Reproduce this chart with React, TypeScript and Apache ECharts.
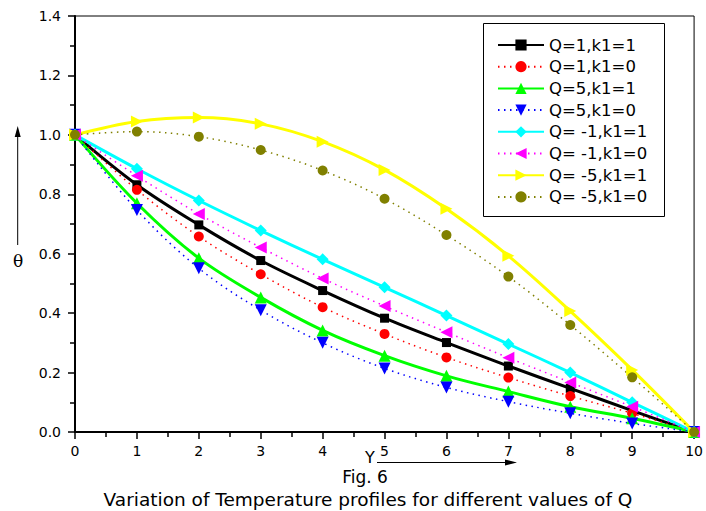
import React, { useEffect, useRef } from "react";
import * as echarts from "echarts";

// Y positions along the channel
const yPositions = [0, 1, 2, 3, 4, 5, 6, 7, 8, 9, 10];

// Temperature θ for each case
const thetaQ1K1 = [1, 0.832, 0.697, 0.577, 0.476, 0.383, 0.301, 0.222, 0.147, 0.072, 0];
const thetaQ1K0 = [1, 0.815, 0.658, 0.531, 0.42, 0.33, 0.251, 0.183, 0.121, 0.063, 0];
const thetaQ5K1 = [1, 0.77, 0.585, 0.453, 0.342, 0.257, 0.189, 0.136, 0.085, 0.046, 0];
const thetaQ5K0 = [1, 0.747, 0.551, 0.41, 0.3, 0.214, 0.15, 0.102, 0.063, 0.029, 0];
const thetaQm1K1 = [1, 0.886, 0.779, 0.678, 0.581, 0.487, 0.392, 0.296, 0.2, 0.1, 0];
const thetaQm1K0 = [1, 0.862, 0.734, 0.621, 0.517, 0.424, 0.336, 0.25, 0.167, 0.085, 0];
const thetaQm5K1 = [1, 1.045, 1.058, 1.037, 0.977, 0.882, 0.751, 0.593, 0.407, 0.209, 0];
const thetaQm5K0 = [1, 1.011, 0.994, 0.949, 0.88, 0.785, 0.663, 0.523, 0.36, 0.184, 0];

const seriesNames = [
  "Q=1,k1=1",
  "Q=1,k1=0",
  "Q=5,k1=1",
  "Q=5,k1=0",
  "Q= -1,k1=1",
  "Q= -1,k1=0",
  "Q= -5,k1=1",
  "Q= -5,k1=0",
];

const FONT = "DejaVu Sans";

type Spec = {
  name: string;
  values: number[];
  color: string;
  solid: boolean;
  symbol: string;
  size: number;
  rotate: number;
};

const specs: Spec[] = [
  { name: seriesNames[0], values: thetaQ1K1, color: "#000000", solid: true, symbol: "rect", size: 9, rotate: 0 },
  { name: seriesNames[1], values: thetaQ1K0, color: "#ff0000", solid: false, symbol: "circle", size: 10, rotate: 0 },
  { name: seriesNames[2], values: thetaQ5K1, color: "#00ff00", solid: true, symbol: "triangle", size: 12, rotate: 0 },
  { name: seriesNames[3], values: thetaQ5K0, color: "#0000ff", solid: false, symbol: "triangle", size: 12, rotate: 180 },
  { name: seriesNames[4], values: thetaQm1K1, color: "#00ffff", solid: true, symbol: "diamond", size: 12, rotate: 0 },
  { name: seriesNames[5], values: thetaQm1K0, color: "#ff00ff", solid: false, symbol: "triangle", size: 12, rotate: 90 },
  { name: seriesNames[6], values: thetaQm5K1, color: "#ffff00", solid: true, symbol: "triangle", size: 12, rotate: -90 },
  { name: seriesNames[7], values: thetaQm5K0, color: "#808000", solid: false, symbol: "circle", size: 10, rotate: 0 },
];

export default function App() {
  const ref = useRef<HTMLDivElement>(null);

  useEffect(() => {
    if (!ref.current) return;
    const chart = echarts.init(ref.current, null, { renderer: "svg" });

    const series = specs.map((s) => ({
      name: s.name,
      type: "line",
      data: yPositions.map((x, i) => [x, s.values[i]]),
      smooth: 0.35,
      symbol: s.symbol,
      symbolSize: s.size,
      symbolRotate: s.rotate,
      showSymbol: true,
      showAllSymbol: true,
      lineStyle: s.solid
        ? { color: s.color, width: 3, type: "solid" }
        : { color: s.color, width: 1.5, type: [1.5, 4.5] },
      itemStyle: { color: s.color, borderWidth: 0 },
      emphasis: { disabled: true },
    }));

    const axisText = { color: "#000", fontFamily: FONT, fontSize: 14 };

    chart.setOption({
      animation: false,
      backgroundColor: "#ffffff",
      grid: {
        left: 75,
        right: 10,
        top: 16,
        bottom: 79,
        show: true,
        borderColor: "#000",
        borderWidth: 1,
        backgroundColor: "transparent",
      },
      xAxis: {
        type: "value",
        min: 0,
        max: 10,
        interval: 1,
        axisLine: { show: true, onZero: false, lineStyle: { color: "#000", width: 2 } },
        axisTick: { show: true, inside: false, length: 7, lineStyle: { color: "#000", width: 1.5 } },
        minorTick: { show: true, splitNumber: 2, length: 5, lineStyle: { color: "#000", width: 1.5 } },
        splitLine: { show: false },
        axisLabel: { ...axisText, margin: 12 },
      },
      yAxis: {
        type: "value",
        min: 0,
        max: 1.4,
        interval: 0.2,
        axisLine: { show: true, onZero: false, lineStyle: { color: "#000", width: 2 } },
        axisTick: { show: true, inside: false, length: 7, lineStyle: { color: "#000", width: 1.5 } },
        minorTick: { show: true, splitNumber: 2, length: 5, lineStyle: { color: "#000", width: 1.5 } },
        splitLine: { show: false },
        axisLabel: { ...axisText, margin: 14, formatter: (v: number) => v.toFixed(1) },
      },
      legend: {
        orient: "vertical",
        left: 497,
        top: 35,
        padding: 0,
        itemWidth: 46,
        itemHeight: 14,
        itemGap: 1.7,
        textStyle: { color: "#000", fontFamily: FONT, fontSize: 16.5, lineHeight: 20 },
        data: seriesNames,
      },
      graphic: [
        {
          type: "rect",
          shape: { x: 483.5, y: 23.5, width: 181, height: 193 },
          style: { fill: "none", stroke: "#000", lineWidth: 1 },
          z: 1,
        },
        // θ label with upward arrow
        {
          type: "text",
          x: 18,
          y: 261,
          style: { text: "θ", fill: "#000", font: `17px "DejaVu Serif"`, align: "center", verticalAlign: "middle" },
        },
        {
          type: "line",
          shape: { x1: 17.7, y1: 245, x2: 17.7, y2: 134 },
          style: { stroke: "#000", lineWidth: 1 },
        },
        {
          type: "polygon",
          shape: { points: [[17.7, 126], [14.7, 137], [20.7, 137]] },
          style: { fill: "#000" },
        },
        // Y label with right arrow
        {
          type: "text",
          x: 370,
          y: 457,
          style: { text: "Y", fill: "#000", font: `16px "${FONT}"`, align: "center", verticalAlign: "middle" },
        },
        {
          type: "line",
          shape: { x1: 377, y1: 462.5, x2: 508, y2: 462.5 },
          style: { stroke: "#000", lineWidth: 1 },
        },
        {
          type: "polygon",
          shape: { points: [[517, 462.5], [505, 459.5], [505, 465.5]] },
          style: { fill: "#000" },
        },
        {
          type: "text",
          x: 365,
          y: 477,
          style: { text: "Fig. 6", fill: "#000", font: `17px "${FONT}"`, align: "center", verticalAlign: "middle" },
        },
        {
          type: "text",
          x: 368,
          y: 499,
          style: {
            text: "Variation of Temperature profiles for different values of Q",
            fill: "#000",
            font: `18.5px "${FONT}"`,
            align: "center",
            verticalAlign: "middle",
          },
        },
      ],
      series,
    });

    return () => chart.dispose();
  }, []);

  return (
    <div
      ref={ref}
      style={{ position: "fixed", left: 0, top: 0, width: 706, height: 511, background: "#fff" }}
    />
  );
}
